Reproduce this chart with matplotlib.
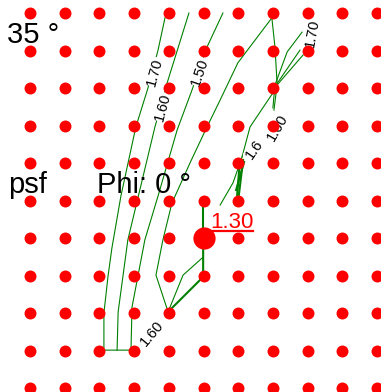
import numpy as np
import matplotlib.pyplot as plt

# --- dados (unidades da grade: coluna, linha de cima para baixo) ---
grid_cols = list(range(11))
grid_rows = list(range(11))
min_col, min_row = 5, 6
min_fs = "1.30"
phi_label = "Phi: 0 °"
angle_label = "35 °"
unit_label = "psf"

# contornos do fator de seguranca
fs170_left = [(3.89, 0.13), (3.69, 0.99), (3.40, 2.00), (3.05, 3.04), (2.62, 4.88),
              (2.36, 6.27), (2.25, 7.01), (2.13, 8.00), (2.13, 8.99), (3.00, 8.99)]
fs160_left = [(4.58, 0.00), (3.95, 1.87), (3.60, 3.04), (2.82, 6.05), (2.54, 7.97), (2.51, 8.99)]
fs150_left = [(5.56, 0.00), (5.10, 0.91), (4.67, 2.05), (4.24, 3.12), (3.69, 4.88),
              (3.31, 6.05), (2.94, 7.84), (2.91, 8.99)]
fs140_mid = [(6.97, 0.13), (5.99, 1.33), (5.48, 2.32), (5.10, 3.04), (4.61, 4.00),
             (4.09, 5.07), (3.83, 6.05), (3.63, 6.99), (3.98, 7.97)]
fs135_low = [(3.98, 7.97), (4.41, 6.99), (4.99, 6.51)]
fs133_low = [(3.98, 7.97), (4.90, 7.12), (4.99, 6.99), (4.99, 6.16)]
fs133_up = [(4.99, 5.01), (4.99, 5.76)]
fs150_mid = [(6.11, 3.84), (5.85, 4.53), (5.48, 5.12)]
fs160_mid = [(7.00, 2.13), (6.34, 3.04), (6.11, 3.84)]
fs_bundle_a = [(6.05, 3.92), (5.97, 4.85)]
fs_bundle_b = [(6.14, 3.92), (6.02, 4.85)]
fs_bundle_c = [(6.17, 3.97), (5.94, 4.72)]
fs170_top = [(6.97, 0.13), (7.06, 0.91), (7.12, 1.87)]
fs170_fan_a = [(7.84, 0.51), (7.41, 1.04), (7.06, 1.92)]
fs170_fan_b = [(7.78, 0.99), (7.09, 1.92)]
fs170_fan_c = [(7.87, 1.12), (7.12, 1.92)]
fs_short_a = [(7.06, 1.92), (7.00, 2.53)]
fs_short_b = [(7.12, 1.92), (7.03, 2.59)]

thin_lines = [fs170_left, fs160_left, fs150_left, fs140_mid, fs135_low, fs150_mid,
              fs160_mid, fs170_top, fs170_fan_a, fs170_fan_b, fs170_fan_c,
              fs_short_a, fs_short_b]
thick_lines = [fs133_low, fs133_up, fs_bundle_a, fs_bundle_b, fs_bundle_c]

# rotulos dos contornos: (texto, coluna, linha, rotacao)
contour_labels = [("1.70", 3.60, 1.57, 75), ("1.60", 3.83, 2.51, 75), ("1.50", 4.90, 1.57, 71),
                  ("1.70", 8.13, 0.53, 80), ("1.60", 7.12, 3.07, 60), ("1.6", 6.48, 3.65, 55),
                  ("1.60", 3.52, 8.56, 50)]

GREEN = '#008000'
RED = '#ff0000'
FONT = 'Liberation Sans'

fig = plt.figure(figsize=(3.81, 3.92), dpi=100)
ax = fig.add_axes([0, 0, 1, 1])
ax.set_xlim(-30 / 34.7, 351 / 34.7)
ax.set_ylim(379 / 37.5, -13 / 37.5)
ax.axis('off')

for ln in thin_lines:
    xs, ys = zip(*ln)
    ax.plot(xs, ys, color=GREEN, lw=0.8, zorder=1)
for ln in thick_lines:
    xs, ys = zip(*ln)
    ax.plot(xs, ys, color=GREEN, lw=1.5, zorder=1)

for txt, cx, cy, rot in contour_labels:
    ax.text(cx, cy, txt, rotation=rot, ha='center', va='center', fontsize=10.5,
            family=FONT, color='black', zorder=2,
            bbox=dict(facecolor='white', edgecolor='none', pad=0.3))

gx, gy = np.meshgrid(grid_cols, grid_rows)
mask = ~((gx == min_col) & (gy == min_row))
ax.plot(gx[mask], gy[mask], 'o', color=RED, markersize=8.6, markeredgewidth=0, zorder=3)
ax.plot([min_col], [min_row], 'o', color=RED, markersize=16, markeredgewidth=0, zorder=3)

ax.text(-0.66, 0.80, angle_label, fontsize=21, family=FONT, ha='left', va='baseline', zorder=4)
ax.text(-0.63, 4.80, unit_label, fontsize=21, family=FONT, ha='left', va='baseline', zorder=4)
ax.text(1.93, 4.80, phi_label, fontsize=21, family=FONT, ha='left', va='baseline', zorder=4)
ax.text(5.19, 5.73, min_fs, fontsize=16, family=FONT, color=RED, ha='left', va='baseline', zorder=4)
ax.plot([5.19, 6.43], [5.81, 5.81], color=RED, lw=1.6, zorder=4)

fig.savefig('out.png', dpi=100)
